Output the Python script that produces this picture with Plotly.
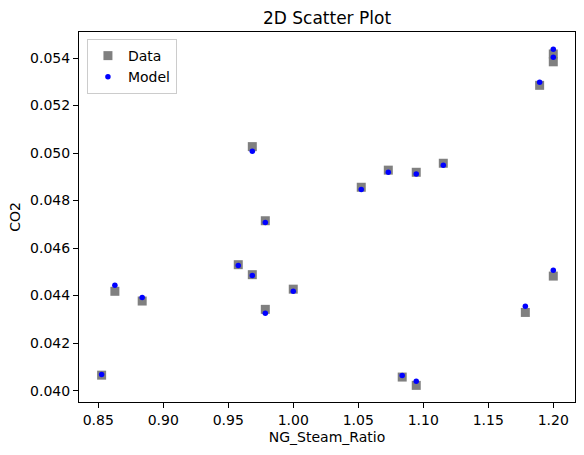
import plotly.graph_objects as go

ng_steam_ratio = [0.8526, 0.8628, 0.8838, 0.9577, 0.9685, 0.9685, 0.9785, 0.9785, 1.0000, 1.0523,
                  1.0731, 1.0838, 1.0946, 1.0946, 1.1154, 1.1785, 1.1895, 1.2000, 1.2000, 1.2000]
co2_data = [0.04065, 0.04418, 0.04377, 0.04530, 0.04488, 0.05027, 0.04715, 0.04342, 0.04427, 0.04856,
            0.04928, 0.04057, 0.04919, 0.04022, 0.04957, 0.04329, 0.05285, 0.04482, 0.05417, 0.05384]
co2_model = [0.04068, 0.04443, 0.04392, 0.04527, 0.04485, 0.05007, 0.04708, 0.04326, 0.04418, 0.04847,
             0.04919, 0.04064, 0.04912, 0.04039, 0.04949, 0.04355, 0.05298, 0.04507, 0.05437, 0.05403]

font = "DejaVu Sans, Arial, sans-serif"

fig = go.Figure()
fig.add_trace(go.Scatter(x=ng_steam_ratio, y=co2_data, mode="markers", name="Data",
                         marker=dict(symbol="square", size=9, color="#808080")))
fig.add_trace(go.Scatter(x=ng_steam_ratio, y=co2_model, mode="markers", name="Model",
                         marker=dict(symbol="circle", size=5.5, color="#0000ff")))

axis_common = dict(showline=True, linecolor="black", linewidth=1, mirror=True,
                   ticks="outside", ticklen=5, tickcolor="black", showgrid=False,
                   zeroline=False, tickfont=dict(family=font, size=14, color="black"))

fig.update_layout(
    width=584, height=455,
    margin=dict(l=79, r=9, t=32, b=53),
    paper_bgcolor="white", plot_bgcolor="white",
    font=dict(family=font, size=14, color="black"),
    title=dict(text="2D Scatter Plot", x=(79 + 575) / 2 / 584, xanchor="center",
               y=1 - 18 / 455, yanchor="middle", font=dict(family=font, size=17)),
    xaxis=dict(range=[0.8352, 1.2167], dtick=0.05, tick0=0.85, tickformat=".2f",
               title=dict(text="NG_Steam_Ratio", font=dict(family=font, size=14), standoff=5),
               **axis_common),
    yaxis=dict(range=[0.03952, 0.055095], dtick=0.002, tick0=0.04, tickformat=".3f",
               title=dict(text="CO2", font=dict(family=font, size=14), standoff=6),
               **axis_common),
    legend=dict(x=0.016, y=0.981, xanchor="left", yanchor="top",
                bgcolor="rgba(255,255,255,0.8)", bordercolor="#cccccc", borderwidth=1,
                font=dict(family=font, size=14), tracegroupgap=0, itemwidth=30),
    showlegend=True,
)

fig.write_html("out.html")
